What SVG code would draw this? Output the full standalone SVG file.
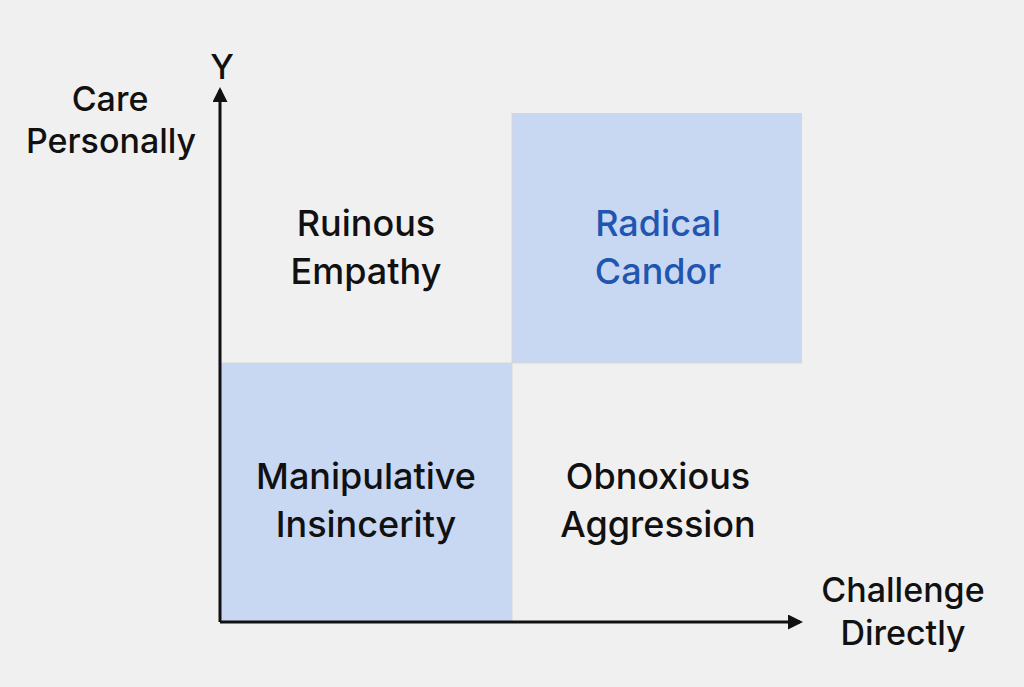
<svg xmlns="http://www.w3.org/2000/svg" width="1024" height="687" viewBox="0 0 1024 687">
<defs>
<style>
text{font-family:"Inter","Liberation Sans",sans-serif;fill:#111;text-anchor:middle;font-weight:500}
.q{font-size:36px}
.ax{font-size:34px}
.blue{fill:#c9d8f2}
.line{stroke:#111;stroke-width:3;fill:none}
</style>
<marker id="ah" viewBox="0 0 10 10" refX="8" refY="5" markerWidth="5" markerHeight="5" orient="auto"><path d="M0,0 L10,5 L0,10 z" fill="#111"/></marker>
</defs>
<rect width="1024" height="687" fill="#f0f0f0"/>
<g id="q-ruinous"><rect x="220" y="113" width="292" height="250" fill="#f0f0f0"/><text class="q" x="366" y="236">Ruinous</text><text class="q" x="366" y="284">Empathy</text></g>
<g id="q-radical"><rect class="blue" x="512" y="113" width="290" height="250"/><text class="q" x="658" y="236" style="fill:#1f56b0">Radical</text><text class="q" x="658" y="284" style="fill:#1f56b0">Candor</text></g>
<g id="q-manip"><rect class="blue" x="220" y="363" width="292" height="258"/><text class="q" x="366" y="489">Manipulative</text><text class="q" x="366" y="537">Insincerity</text></g>
<g id="q-obnox"><rect x="512" y="363" width="290" height="258" fill="#f0f0f0"/><text class="q" x="658" y="489">Obnoxious</text><text class="q" x="658" y="537">Aggression</text></g>
<g id="grid" stroke="#d8d8d8" stroke-width="1"><line x1="512" y1="113" x2="512" y2="621"/><line x1="220" y1="363" x2="802" y2="363"/></g>
<g id="connectors"><line class="line" x1="220" y1="622" x2="220" y2="90" marker-end="url(#ah)"/><line class="line" x1="220" y1="622" x2="800" y2="622" marker-end="url(#ah)"/></g>
<g id="labels"><text class="ax" x="222" y="79">Y</text><text class="ax" x="110" y="111">Care</text><text class="ax" x="111" y="153">Personally</text><text class="ax" x="903" y="602">Challenge</text><text class="ax" x="903" y="645">Directly</text></g>
</svg>
